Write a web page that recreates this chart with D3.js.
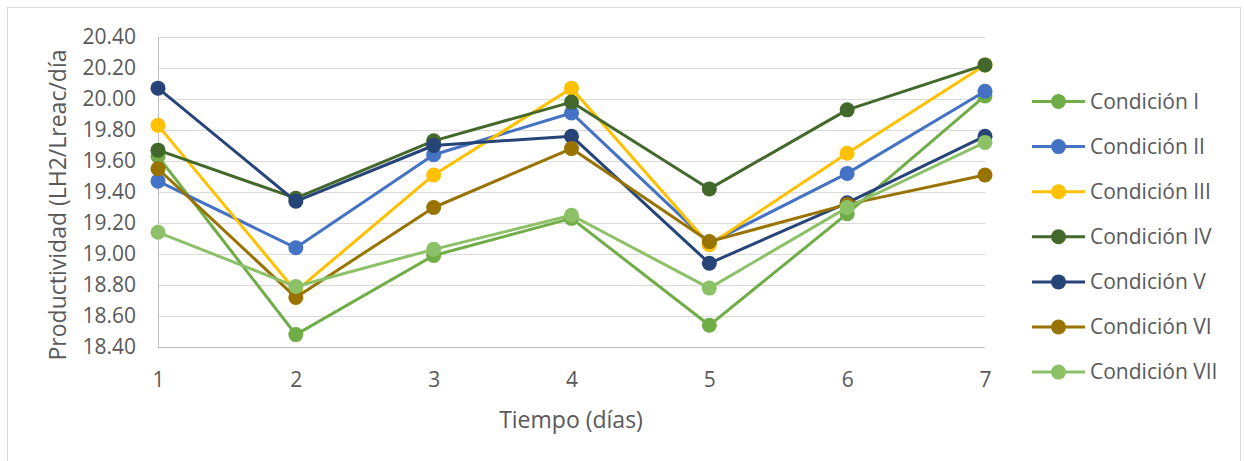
<!DOCTYPE html>
<html><head><meta charset="utf-8">
<script src="https://cdn.jsdelivr.net/npm/d3@7"></script>
<style>body{margin:0;background:#fff}svg{display:block}text{font-family:"Open Sans","Noto Sans",sans-serif;fill:#595959}</style>
</head><body><svg id="c" width="1244" height="461"></svg>
<script>
const days = [1,2,3,4,5,6,7];
const seriesNames = ["Condición I","Condición II","Condición III","Condición IV","Condición V","Condición VI","Condición VII"];
const colors = ["#70AD47","#4472C4","#FFC000","#43682B","#264478","#997300","#8CC168"];
const condI   = [19.63,18.48,18.99,19.23,18.54,19.26,20.02];
const condII  = [19.47,19.04,19.64,19.91,19.07,19.52,20.05];
const condIII = [19.83,18.76,19.51,20.07,19.06,19.65,20.22];
const condIV  = [19.67,19.36,19.73,19.98,19.42,19.93,20.22];
const condV   = [20.07,19.34,19.70,19.76,18.94,19.33,19.76];
const condVI  = [19.55,18.72,19.30,19.68,19.08,19.32,19.51];
const condVII = [19.14,18.79,19.03,19.25,18.78,19.30,19.72];
const yTicks = [18.40,18.60,18.80,19.00,19.20,19.40,19.60,19.80,20.00,20.20,20.40];
const yTitle = "Productividad (LH2/Lreac/día";
const xTitle = "Tiempo (días)";
const allSeries = [condI,condII,condIII,condIV,condV,condVI,condVII];

const svg = d3.select("#c");
svg.append("rect").attr("x",7.5).attr("y",7.5).attr("width",1233).attr("height",460).attr("fill","#fff").attr("stroke","#d9d9d9");

const x = d3.scaleLinear().domain([1,7]).range([158,985]);
const y = d3.scaleLinear().domain([18.4,20.4]).range([347,37]);

// gridlines
svg.append("g").selectAll("line").data(yTicks.slice(1)).join("line")
  .attr("x1",158).attr("x2",985).attr("y1",d=>Math.round(y(d))+0.5).attr("y2",d=>Math.round(y(d))+0.5)
  .attr("stroke","#d9d9d9").attr("stroke-width",1);

// y axis
const ya = svg.append("g").attr("transform","translate(158,0)")
  .call(d3.axisLeft(y).tickValues(yTicks).tickFormat(d3.format(".2f")).tickSize(0).tickPadding(22));
ya.select(".domain").attr("stroke","#bfbfbf").attr("d","M0.5,37V347.5");
ya.selectAll("text").style("font-size","21px").attr("fill","#595959");

// x axis
const xa = svg.append("g").attr("transform","translate(0,347)")
  .call(d3.axisBottom(x).tickValues(days).tickFormat(d3.format("d")).tickSize(0).tickPadding(25));
xa.select(".domain").attr("stroke","#bfbfbf").attr("d","M158,0.5H985");
xa.selectAll("text").style("font-size","21px").attr("fill","#595959");

// titles
svg.append("text").attr("transform","translate(66,205) rotate(-90)").attr("text-anchor","middle")
  .style("font-size","23px").text(yTitle);
svg.append("text").attr("x",571).attr("y",428).attr("text-anchor","middle")
  .style("font-size","23px").text(xTitle);

// series
const line = d3.line().x((d,i)=>x(days[i])).y(d=>y(d));
allSeries.forEach((s,k)=>{
  const g = svg.append("g");
  g.append("path").attr("d",line(s)).attr("fill","none").attr("stroke",colors[k]).attr("stroke-width",3).attr("stroke-linejoin","round");
  g.selectAll("circle").data(s).join("circle").attr("cx",(d,i)=>x(days[i])).attr("cy",d=>y(d)).attr("r",7.5).attr("fill",colors[k]);
});

// legend
const lg = svg.append("g");
seriesNames.forEach((n,k)=>{
  const yy = 101.5 + k*45.1;
  lg.append("line").attr("x1",1032).attr("x2",1085).attr("y1",yy).attr("y2",yy).attr("stroke",colors[k]).attr("stroke-width",3);
  lg.append("circle").attr("cx",1058.5).attr("cy",yy).attr("r",7.5).attr("fill",colors[k]);
  lg.append("text").attr("x",1090).attr("y",yy).attr("dy","0.35em").style("font-size","21px").text(n);
});
</script></body></html>
